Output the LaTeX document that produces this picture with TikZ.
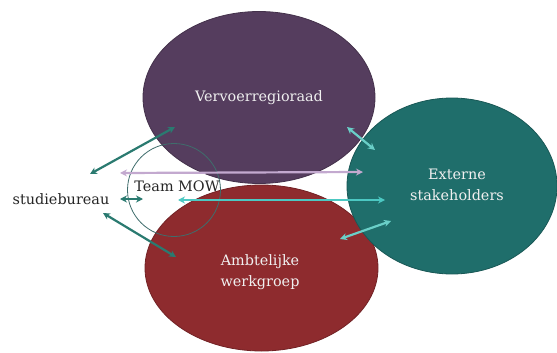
\documentclass[tikz,border=0pt]{standalone}
\usepackage{fontspec}
\setmainfont{DejaVu Serif}
\usetikzlibrary{shapes.geometric,arrows.meta}
\definecolor{vervc}{HTML}{553D5E}
\definecolor{ambtc}{HTML}{8E2B2E}
\definecolor{extc}{HTML}{1F6E6B}
\definecolor{darkteal}{HTML}{2A7A70}
\definecolor{lavender}{HTML}{C3A9CF}
\definecolor{turq}{HTML}{4CC8C2}
\definecolor{lturq}{HTML}{6ACFC8}
\definecolor{circc}{HTML}{3F6D6C}
\tikzset{
  blob/.style={ellipse, inner sep=0pt, line width=0.8pt, text=white!94!black, align=center, font=\fontsize{14.4}{21}\selectfont},
  plain/.style={text=black!85, inner sep=1pt, font=\fontsize{14.4}{17}\selectfont},
  dbl/.style={{Stealth[length=7pt,width=7pt]}-{Stealth[length=7pt,width=7pt]}, line width=2.2pt},
}
\begin{document}
\begin{tikzpicture}[x=1pt,y=-1pt]
\useasboundingbox[fill=white] (0,0) rectangle (557,353);
\node[blob, fill=vervc, draw=vervc!80!black, minimum width=232pt, minimum height=172pt] (verv) at (259,97.5) {Vervoerregioraad};
\node[blob, fill=ambtc, draw=ambtc!80!black, minimum width=233pt, minimum height=166pt] (ambt) at (261.5,268) {};
\node[blob] (ambttxt) at (260,272) {Ambtelijke\\werkgroep};
\node[blob, fill=extc, draw=extc!80!black, minimum width=210pt, minimum height=176pt] (ext) at (452,186) {};
\node[blob] (exttxt) at (457,185) {Externe\\stakeholders};
\node[circle, draw=circc, line width=0.8pt, minimum size=93pt, inner sep=0pt] (mow) at (174,190) {};
\node[plain] (mowtxt) at (177,186) {Team MOW};
\node[plain] (stud) at (61,199) {studiebureau};
% endpoints
\coordinate (a1) at (90,174);   \coordinate (a2) at (175,127);
\coordinate (b1) at (120,199);  \coordinate (b2) at (143,199);
\coordinate (c1) at (103,213);  \coordinate (c2) at (176,257);
\coordinate (d1) at (120,173);  \coordinate (d2) at (363,172);
\coordinate (e1) at (178,200);  \coordinate (e2) at (385,200);
\coordinate (f1) at (347,127);  \coordinate (f2) at (375,150);
\coordinate (g1) at (340,239);  \coordinate (g2) at (391,221);
\draw[dbl, darkteal] (a1) -- (a2);
\draw[dbl, darkteal] (b1) -- (b2);
\draw[dbl, darkteal] (c1) -- (c2);
\draw[dbl, lavender] (d1) -- (d2);
\draw[dbl, turq] (e1) -- (e2);
\draw[dbl, lturq] (f1) -- (f2);
\draw[dbl, lturq] (g1) -- (g2);
\end{tikzpicture}
\end{document}
